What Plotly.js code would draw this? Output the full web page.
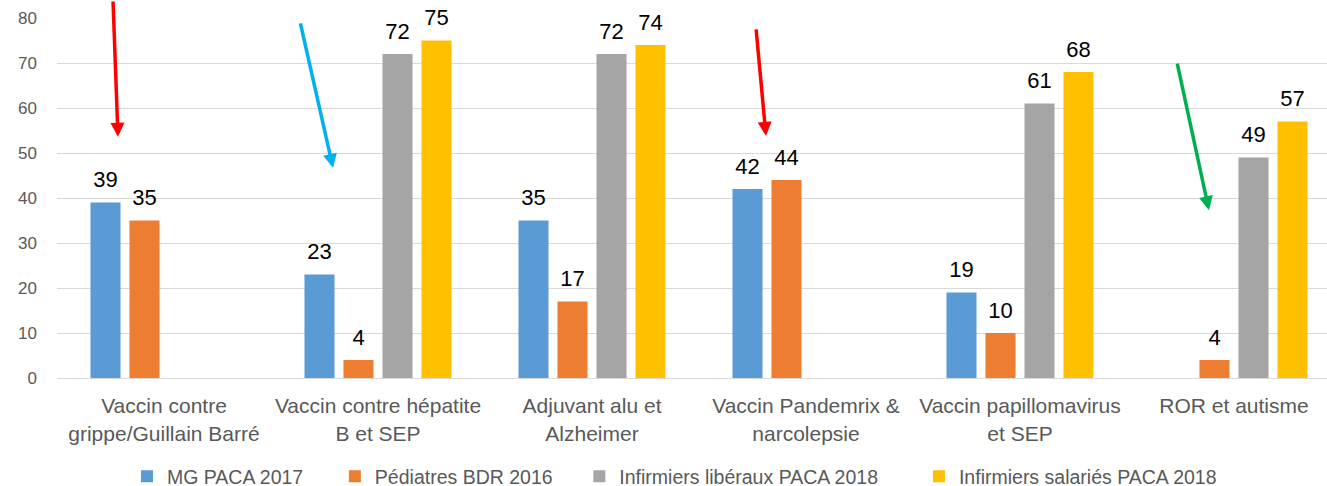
<!DOCTYPE html>
<html>
<head>
<meta charset="utf-8">
<script src="https://cdn.plot.ly/plotly-3.0.1.min.js"></script>
<style>
html,body{margin:0;padding:0;overflow:hidden;background:#fff;}
#chart{width:1341px;height:500px;}
</style>
</head>
<body>
<div id="chart"></div>
<script>
const categories = [
  "Vaccin contre<br>grippe/Guillain Barré",
  "Vaccin contre hépatite<br>B et SEP",
  "Adjuvant alu et<br>Alzheimer",
  "Vaccin Pandemrix &<br>narcolepsie",
  "Vaccin papillomavirus<br>et SEP",
  "ROR et autisme"
];

const seriesNames = ["MG PACA 2017", "Pédiatres BDR 2016", "Infirmiers libéraux PACA 2018", "Infirmiers salariés PACA 2018"];
const mgPaca2017 = [39, 23, 35, 42, 19, null];
const pediatresBdr2016 = [35, 4, 17, 44, 10, 4];
const infLiberaux2018 = [null, 72, 72, null, 61, 49];
const infSalaries2018 = [null, 75, 74, null, 68, 57];
const seriesValues = [mgPaca2017, pediatresBdr2016, infLiberaux2018, infSalaries2018];
const colors = ["#5B9BD5", "#ED7D31", "#A5A5A5", "#FFC000"];

// arrows: tip at (category index, value), tail offset in px
const arrowTips = [
  {x: -0.215, y: 53.6, ax: -5, ay: -150, color: "#FF0000"},
  {x: 0.79, y: 46.7, ax: -33, ay: -146, color: "#00B0F0"},
  {x: 2.813, y: 53.8, ax: -10, ay: -108, color: "#FF0000"},
  {x: 4.883, y: 37.3, ax: -32, ay: -148, color: "#00B050"}
];

// legend entry left positions (paper fraction of plot width)
const legendX = [0.0545, 0.2164, 0.4068, 0.6713];
const legendIds = ["legend", "legend2", "legend3", "legend4"];

const FONT = "Liberation Sans, Arial, sans-serif";

const barTraces = seriesValues.map((vals, i) => ({
  type: "bar",
  name: seriesNames[i],
  x: categories,
  y: vals,
  legend: legendIds[i],
  marker: {color: colors[i]},
  hoverinfo: "skip"
}));

const labelTraces = seriesValues.map((vals, i) => ({
  type: "scatter",
  mode: "markers+text",
  x: categories,
  y: vals,
  marker: {size: 14, color: "rgba(0,0,0,0)"},
  text: vals.map(v => v === null ? "" : String(v)),
  textposition: "top center",
  textfont: {family: FONT, size: 22, color: "#000000"},
  cliponaxis: false,
  showlegend: false,
  hoverinfo: "skip"
}));

const annotations = arrowTips.map(a => ({
  x: a.x, y: a.y, xref: "x", yref: "y",
  ax: a.ax, ay: a.ay,
  showarrow: true, arrowhead: 2, arrowsize: 0.8, arrowwidth: 3.5,
  arrowcolor: a.color, text: ""
}));

const layout = {
  width: 1341,
  height: 500,
  margin: {l: 57, r: 0, t: 18, b: 122, autoexpand: false},
  paper_bgcolor: "#ffffff",
  plot_bgcolor: "#ffffff",
  barmode: "group",
  bargap: 0.271,
  bargroupgap: 0.23,
  scattermode: "group",
  scattergap: 0.271,
  font: {family: FONT, color: "#595959"},
  xaxis: {
    type: "category",
    range: [-0.5, 5.5],
    automargin: false,
    showgrid: false,
    showline: true,
    linecolor: "#D9D9D9",
    linewidth: 1,
    ticks: "",
    ticklabelstandoff: 9,
    tickfont: {family: FONT, size: 21, color: "#595959"},
    fixedrange: true
  },
  yaxis: {
    range: [0, 80],
    dtick: 10,
    automargin: false,
    showgrid: true,
    gridcolor: "#D9D9D9",
    gridwidth: 1,
    zeroline: false,
    showline: false,
    ticks: "",
    ticklabelstandoff: 19,
    tickfont: {family: FONT, size: 17, color: "#595959"},
    fixedrange: true
  },
  showlegend: true,
  annotations: annotations
};

legendIds.forEach((id, i) => {
  layout[id] = {
    orientation: "h",
    x: legendX[i], xanchor: "left",
    y: -0.274, yanchor: "middle",
    bgcolor: "rgba(0,0,0,0)",
    borderwidth: 0,
    font: {family: FONT, size: 19.5, color: "#595959"},
    itemwidth: 30
  };
});

Plotly.newPlot("chart", barTraces.concat(labelTraces), layout, {displayModeBar: false, staticPlot: true});
</script>
</body>
</html>
